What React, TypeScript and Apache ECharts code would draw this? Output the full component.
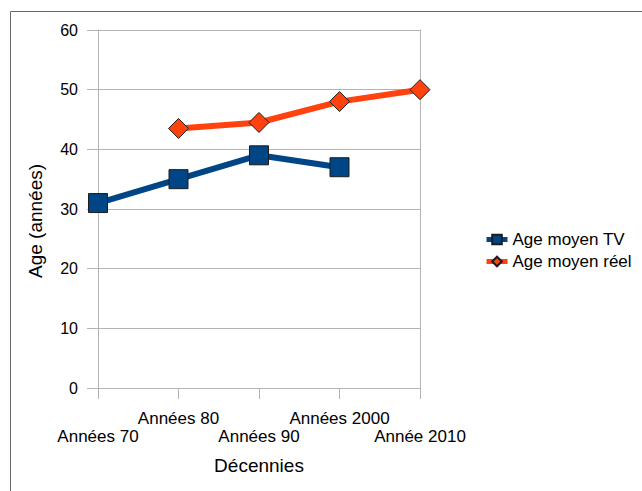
import React, { useEffect, useRef } from "react";
import * as echarts from "echarts";

const categories = ["Années 70", "Années 80", "Années 90", "Années 2000", "Année 2010"];
const ageMoyenTV: (number | string)[] = [31, 35, 39, 37, "-"];
const ageMoyenReel: (number | string)[] = ["-", 43.5, 44.5, 48, 50];
const seriesNames = ["Age moyen TV", "Age moyen réel"];
const yTicks = { min: 0, max: 60, interval: 10 };
const yAxisTitle = "Age (années)";
const xAxisTitle = "Décennies";

const FONT = "'Liberation Sans', Arial, sans-serif";
const GRID = "#b3b3b3";

export default function App() {
  const ref = useRef<HTMLDivElement>(null);
  useEffect(() => {
    if (!ref.current) return;
    const chart = echarts.init(ref.current, null, { renderer: "svg" });
    chart.setOption({
      animation: false,
      backgroundColor: "#ffffff",
      textStyle: { fontFamily: FONT },
      graphic: [
        {
          type: "rect",
          shape: { x: 10.5, y: 11.5, width: 700, height: 600 },
          style: { fill: "none", stroke: "#6a6a6a", lineWidth: 1 },
          silent: true,
          z: -10,
        },
        {
          type: "text",
          x: 35,
          y: 221,
          rotation: Math.PI / 2,
          style: {
            text: yAxisTitle,
            align: "center",
            verticalAlign: "middle",
            fontSize: 19,
            fontFamily: FONT,
            fill: "#000",
          },
          silent: true,
        },
      ],
      grid: { left: 98, right: 222, top: 30, bottom: 103, containLabel: false },
      legend: {
        orient: "vertical",
        left: 484,
        top: 231,
        padding: 0,
        itemWidth: 21,
        itemHeight: 12,
        itemGap: 5,
        lineStyle: { width: 5 },
        textStyle: { fontSize: 17, color: "#000", fontFamily: FONT },
        data: seriesNames,
      },
      xAxis: {
        type: "category",
        data: categories,
        boundaryGap: false,
        name: xAxisTitle,
        nameLocation: "middle",
        nameGap: 68,
        nameTextStyle: { fontSize: 19, color: "#000", fontFamily: FONT },
        axisLine: { show: true, lineStyle: { color: GRID, width: 1 } },
        axisTick: { show: true, length: 11, inside: false, lineStyle: { color: GRID } },
        axisLabel: {
          interval: 0,
          hideOverlap: false,
          margin: 21,
          fontSize: 17,
          lineHeight: 18,
          color: "#000",
          fontFamily: FONT,
          formatter: (v: string, i: number) => (i % 2 === 0 ? "\n" + v : v),
        },
        splitLine: { show: false },
      },
      yAxis: [
        {
          type: "value",
          min: yTicks.min,
          max: yTicks.max,
          interval: yTicks.interval,
          axisLine: { show: true, lineStyle: { color: GRID, width: 1 } },
          axisTick: { show: true, length: 11, inside: false, lineStyle: { color: GRID } },
          axisLabel: { margin: 20, fontSize: 16, color: "#000", fontFamily: FONT },
          splitLine: { show: true, lineStyle: { color: GRID, width: 1 } },
        },
        {
          type: "value",
          position: "right",
          min: yTicks.min,
          max: yTicks.max,
          interval: yTicks.interval,
          axisLine: { show: true, lineStyle: { color: GRID, width: 1 } },
          axisTick: { show: false },
          axisLabel: { show: false },
          splitLine: { show: false },
        },
      ],
      series: [
        {
          name: seriesNames[0],
          type: "line",
          data: ageMoyenTV,
          connectNulls: false,
          symbol: "rect",
          symbolSize: 19,
          lineStyle: { color: "#004586", width: 6 },
          itemStyle: { color: "#004586", borderColor: "#1c1c1c", borderWidth: 1 },
          z: 3,
        },
        {
          name: seriesNames[1],
          type: "line",
          data: ageMoyenReel,
          connectNulls: false,
          symbol: "diamond",
          symbolSize: 20,
          lineStyle: { color: "#ff420e", width: 6 },
          itemStyle: { color: "#ff420e", borderColor: "#1c1c1c", borderWidth: 1 },
          z: 3,
        },
      ],
    });
    return () => chart.dispose();
  }, []);
  return (
    <div
      ref={ref}
      style={{ position: "fixed", left: 0, top: 0, width: 642, height: 491 }}
    />
  );
}
